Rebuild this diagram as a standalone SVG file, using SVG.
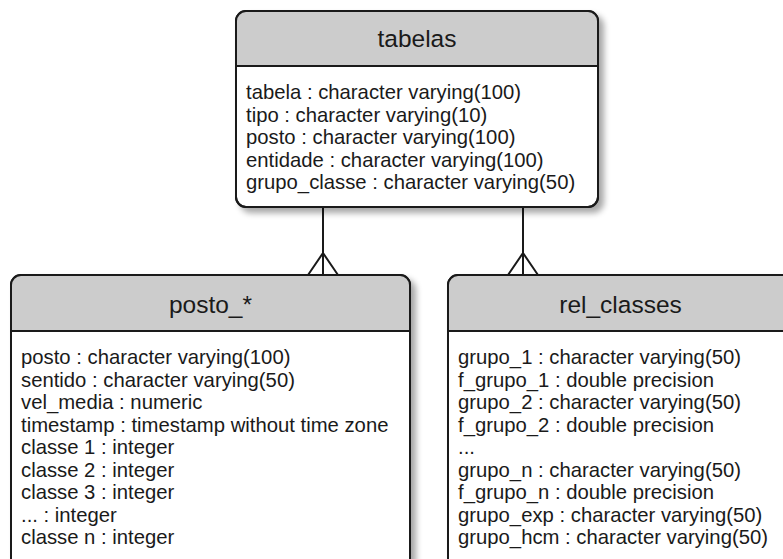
<svg xmlns="http://www.w3.org/2000/svg" width="783" height="559" viewBox="0 0 783 559">
  <defs>
    <filter id="shadow" x="-10%" y="-10%" width="130%" height="130%">
      <feGaussianBlur in="SourceAlpha" stdDeviation="3"/>
      <feOffset dx="5" dy="5" result="off"/>
      <feComponentTransfer><feFuncA type="linear" slope="0.35"/></feComponentTransfer>
      <feMerge><feMergeNode/><feMergeNode in="SourceGraphic"/></feMerge>
    </filter>
    <clipPath id="clipTop"><rect x="236" y="11" width="362" height="196" rx="10"/></clipPath>
    <clipPath id="clipPosto"><rect x="11" y="275" width="399" height="320" rx="10"/></clipPath>
    <clipPath id="clipRel"><rect x="448" y="275" width="345" height="320" rx="10"/></clipPath>
  </defs>
  <style>
    .box { fill: #ffffff; stroke: #1a1a1a; stroke-width: 2; }
    .head { fill: #cccccc; }
    .sep { stroke: #1a1a1a; stroke-width: 2; }
    .title { font-family: "Liberation Sans", Arial, sans-serif; font-size: 24.5px; fill: #1a1a1a; text-anchor: middle; }
    .attr { font-family: "Liberation Sans", Arial, sans-serif; font-size: 20.3px; fill: #1a1a1a; }
    .conn { stroke: #1a1a1a; stroke-width: 2; fill: none; }
  </style>

  <!-- relationships: one tabelas row to many rows in each child table -->
  <g id="connectors">
    <path class="conn" d="M323,207 V275 M308,275 L323,253 L338,275"/>
    <path class="conn" d="M523,207 V275 M508,275 L523,253 L538,275"/>
  </g>

  <g id="tabelas">
    <g filter="url(#shadow)">
      <rect class="box" x="236" y="11" width="362" height="196" rx="10"/>
    </g>
    <rect class="head" x="236" y="11" width="362" height="55" clip-path="url(#clipTop)"/>
    <rect x="236" y="11" width="362" height="196" rx="10" fill="none" stroke="#1a1a1a" stroke-width="2"/>
    <line class="sep" x1="236" y1="66" x2="598" y2="66"/>
    <text class="title" x="417" y="47">tabelas</text>
    <text class="attr" x="246" y="99">tabela : character varying(100)</text>
    <text class="attr" x="246" y="121.5">tipo : character varying(10)</text>
    <text class="attr" x="246" y="144">posto : character varying(100)</text>
    <text class="attr" x="246" y="166.5">entidade : character varying(100)</text>
    <text class="attr" x="246" y="189">grupo_classe : character varying(50)</text>
  </g>

  <g id="posto">
    <g filter="url(#shadow)">
      <rect class="box" x="11" y="275" width="399" height="320" rx="10"/>
    </g>
    <rect class="head" x="11" y="275" width="399" height="56" clip-path="url(#clipPosto)"/>
    <rect x="11" y="275" width="399" height="320" rx="10" fill="none" stroke="#1a1a1a" stroke-width="2"/>
    <line class="sep" x1="11" y1="331" x2="410" y2="331"/>
    <text class="title" x="210.5" y="313">posto_*</text>
    <text class="attr" x="21" y="364">posto : character varying(100)</text>
    <text class="attr" x="21" y="386.5">sentido : character varying(50)</text>
    <text class="attr" x="21" y="409">vel_media : numeric</text>
    <text class="attr" x="21" y="431.5">timestamp : timestamp without time zone</text>
    <text class="attr" x="21" y="454">classe 1 : integer</text>
    <text class="attr" x="21" y="476.5">classe 2 : integer</text>
    <text class="attr" x="21" y="499">classe 3 : integer</text>
    <text class="attr" x="21" y="521.5">... : integer</text>
    <text class="attr" x="21" y="544">classe n : integer</text>
  </g>

  <g id="rel_classes">
    <g filter="url(#shadow)">
      <rect class="box" x="448" y="275" width="345" height="320" rx="10"/>
    </g>
    <rect class="head" x="448" y="275" width="345" height="56" clip-path="url(#clipRel)"/>
    <rect x="448" y="275" width="345" height="320" rx="10" fill="none" stroke="#1a1a1a" stroke-width="2"/>
    <line class="sep" x1="448" y1="331" x2="793" y2="331"/>
    <text class="title" x="620.5" y="313">rel_classes</text>
    <text class="attr" x="458" y="364">grupo_1 : character varying(50)</text>
    <text class="attr" x="458" y="386.5">f_grupo_1 : double precision</text>
    <text class="attr" x="458" y="409">grupo_2 : character varying(50)</text>
    <text class="attr" x="458" y="431.5">f_grupo_2 : double precision</text>
    <text class="attr" x="458" y="454">...</text>
    <text class="attr" x="458" y="476.5">grupo_n : character varying(50)</text>
    <text class="attr" x="458" y="499">f_grupo_n : double precision</text>
    <text class="attr" x="458" y="521.5">grupo_exp : character varying(50)</text>
    <text class="attr" x="458" y="544">grupo_hcm : character varying(50)</text>
  </g>
</svg>
